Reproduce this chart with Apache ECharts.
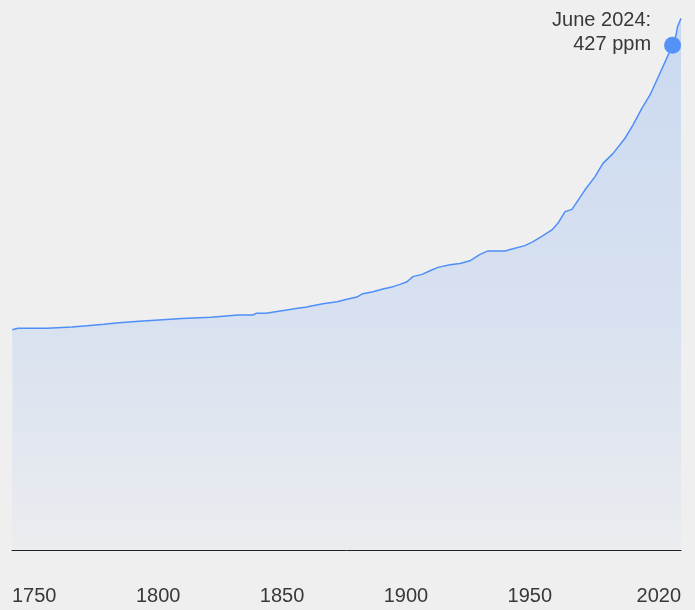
<!DOCTYPE html>
<html>
<head>
<meta charset="utf-8">
<script src="https://cdn.jsdelivr.net/npm/echarts@6/dist/echarts.min.js"></script>
<style>
html,body{margin:0;padding:0;background:#efefef;}
#chart{width:695px;height:610px;}
</style>
</head>
<body>
<div id="chart"></div>
<script>
// Years (x) and CO2 concentration in ppm (y)
const years = [1750.1,1752.4,1764.1,1764.9,1774.2,1775.0,1780.3,1781.1,1787.1,1787.9,1793.2,1794.0,1801.3,1802.1,1809.3,1810.1,1818.6,1819.4,1830.3,1831.1,1841.2,1847.3,1848.5,1852.5,1853.3,1856.9,1857.7,1861.0,1861.8,1864.6,1865.4,1869.0,1870.3,1875.5,1881.2,1885.6,1889.2,1891.2,1895.7,1899.7,1903.8,1906.6,1909.4,1911.8,1915.5,1918.7,1921.9,1926.8,1930.8,1934.8,1935.6,1938.9,1942.1,1949.0,1952.2,1957.0,1960.3,1964.3,1967.9,1970.3,1973.2,1976.0,1981.2,1985.3,1988.5,1992.6,1997.4,2000.6,2004.2,2007.5,2011.5,2014.8,2016.6,2018.0,2018.6,2020.0];
const ppm = [276.5,277.3,277.3,278.0,278.0,278.6,278.6,279.4,279.4,280.2,280.2,281.0,281.0,281.7,281.7,282.4,282.4,283.1,283.1,283.9,284.3,284.3,285.2,285.2,286.0,286.1,286.6,287.0,287.5,287.8,288.2,288.5,288.9,290.3,291.3,292.8,293.8,295.4,296.6,298.1,299.3,300.5,301.9,304.6,305.8,307.7,309.5,310.9,311.6,313.0,313.7,316.4,318.2,318.2,319.4,321.0,323.1,326.3,329.3,332.8,339.0,340.2,350.4,357.5,364.5,369.8,377.8,384.8,393.6,400.7,412.2,421.8,427.0,432.4,436.8,441.2];
const tickYears = [1750,1800,1850,1900,1950,2020];
const tickLabels = ['1750','1800','1850','1900','1950','2020'];
const highlightYear = 2016.6;
const highlightPpm = 427;
const highlightLabel = ['June 2024:', '427 ppm'];

const lineData = years.map((y, i) => [y, ppm[i]]);

const chart = echarts.init(document.getElementById('chart'), null, {renderer: 'canvas'});
chart.setOption({
  backgroundColor: '#efefef',
  animation: false,
  grid: {left: 12, right: 14, top: 15, bottom: 60, containLabel: false},
  xAxis: {
    type: 'value',
    min: 1750,
    max: 2020,
    axisLine: {show: true, lineStyle: {color: '#222', width: 1}},
    axisTick: {show: false},
    splitLine: {show: false},
    axisLabel: {
      customValues: tickYears,
      formatter: v => tickLabels[tickYears.indexOf(v)] ?? '',
      align: 'left',
      alignMaxLabel: 'right',
      margin: 36,
      color: '#383838',
      fontSize: 20,
      fontFamily: 'Liberation Sans, Arial, sans-serif'
    }
  },
  yAxis: {
    type: 'value',
    min: 160,
    max: 443,
    show: false,
    splitLine: {show: false}
  },
  series: [
    {
      type: 'line',
      data: lineData,
      symbol: 'none',
      lineStyle: {color: '#4f8ff8', width: 1.5},
      areaStyle: {
        color: new echarts.graphic.LinearGradient(0, 0, 0, 1, [
          {offset: 0, color: 'rgba(75,140,245,0.32)'},
          {offset: 0.6, color: 'rgba(75,140,245,0.19)'},
          {offset: 1, color: 'rgba(75,140,245,0.04)'}
        ])
      },
      z: 2
    },
    {
      type: 'scatter',
      data: [[highlightYear, highlightPpm]],
      symbolSize: 17,
      itemStyle: {color: '#5592f7', opacity: 1},
      label: {
        show: true,
        position: 'left',
        distance: 13,
        offset: [0, -13],
        align: 'right',
        formatter: highlightLabel.join('\n'),
        color: '#383838',
        fontSize: 20,
        lineHeight: 24,
        fontFamily: 'Liberation Sans, Arial, sans-serif'
      },
      z: 3
    }
  ]
});
</script>
</body>
</html>
